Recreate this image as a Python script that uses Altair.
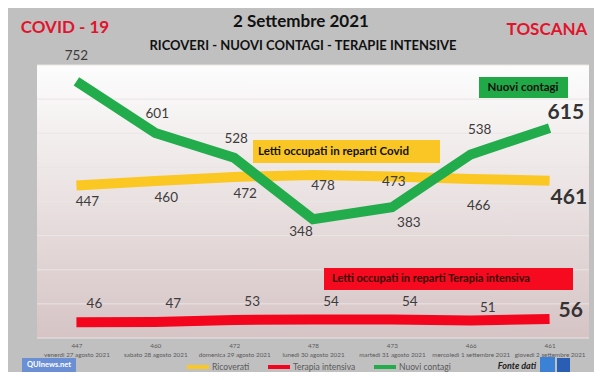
import altair as alt
import pandas as pd

# ---------------- data ----------------
giorni = [
    "venerdì 27 agosto 2021",
    "sabato 28 agosto 2021",
    "domenica 29 agosto 2021",
    "lunedì 30 agosto 2021",
    "martedì 31 agosto 2021",
    "mercoledì 1 settembre 2021",
    "giovedì 2 settembre 2021",
]
ricoverati = [447, 460, 472, 478, 473, 466, 461]
terapia_intensiva = [46, 47, 53, 54, 54, 51, 56]
nuovi_contagi = [752, 601, 528, 348, 383, 538, 615]
serie = ["Ricoverati", "Terapia intensiva", "Nuovi contagi"]
colori = ["#fbc723", "#f3061d", "#22ac4b"]
y_ticks = [0, 100, 200, 300, 400, 500, 600, 700, 800]

W, H = 552, 273
FONT = "Lato"
LABEL_COLOR = "#3c3c3c"

rows = []
chiavi = [f"{r}|{g}" for r, g in zip(ricoverati, giorni)]
for i, k in enumerate(chiavi):
    for s, vals in zip(serie, [ricoverati, terapia_intensiva, nuovi_contagi]):
        rows.append({"giorno": k, "idx": i, "serie": s, "valore": vals[i]})
df = pd.DataFrame(rows)

x_enc = alt.X(
    "giorno:N",
    sort=chiavi,
    title=None,
    axis=alt.Axis(
        labelExpr="split(datum.label, '|')",
        labelAngle=0,
        labelFontSize=6.3,
        labelColor="#5a5a5a",
        labelFont=FONT,
        labelPadding=4,
        labelLineHeight=9,
        labelOverlap=False,
        domain=False,
        ticks=False,
        grid=False,
    ),
)
y_enc = alt.Y(
    "valore:Q",
    title=None,
    scale=alt.Scale(domain=[0, 800], nice=False),
    axis=alt.Axis(
        values=y_ticks,
        domain=False,
        ticks=False,
        grid=False,
        labelFontSize=9,
        labelColor="#595959",
        labelFont=FONT,
        labelPadding=6,
    ),
)
color_enc = alt.Color(
    "serie:N",
    scale=alt.Scale(domain=serie, range=colori),
    legend=alt.Legend(
        orient="none",
        legendX=148,
        legendY=289,
        direction="horizontal",
        title=None,
        symbolType="stroke",
        symbolStrokeWidth=4,
        symbolSize=484,
        labelFontSize=8.5,
        labelColor="#595959",
        labelFont=FONT,
        labelOffset=1,
        columnPadding=10,
    ),
)

one = pd.DataFrame({"t": [""]})

# plot background gradient
bg = alt.Chart(one).mark_rect(
    color=alt.LinearGradient(
        gradient="linear",
        stops=[
            alt.GradientStop(offset=0, color="#fdfdfd"),
            alt.GradientStop(offset=1, color="#d6c4c5"),
        ],
        x1=0, x2=0, y1=0, y2=1,
    )
).encode(x=alt.value(0), x2=alt.value(W), y=alt.value(0), y2=alt.value(H))

grid = alt.Chart(pd.DataFrame({"v": y_ticks})).mark_rule(
    color="#ebe5e5", strokeWidth=1
).encode(y=alt.Y("v:Q", scale=alt.Scale(domain=[0, 800], nice=False), axis=None))


def line(name):
    return alt.Chart(df).transform_filter(alt.datum.serie == name).mark_line(
        strokeWidth=10, strokeCap="butt"
    ).encode(x=x_enc, y=y_enc, color=color_enc)


def labels(name, idxs, dx, dy, size=13.5, weight="normal", align="center", color=LABEL_COLOR):
    return alt.Chart(df).transform_filter(alt.datum.serie == name).transform_filter(
        alt.FieldOneOfPredicate(field="idx", oneOf=idxs)
    ).mark_text(
        dx=dx, dy=dy, fontSize=size, fontWeight=weight, align=align,
        baseline="middle", font=FONT, color=color
    ).encode(x=x_enc, y=y_enc, text="valore:Q")


def txt(s, x, y, size, color, weight="bold", align="center", style="normal"):
    return alt.Chart(pd.DataFrame({"t": [s]})).mark_text(
        fontSize=size, font=FONT, fontWeight=weight, color=color, align=align,
        baseline="middle", fontStyle=style
    ).encode(text="t:N", x=alt.value(x), y=alt.value(y))


def box(x1, x2, y1, y2, color):
    return alt.Chart(one).mark_rect(color=color).encode(
        x=alt.value(x1), x2=alt.value(x2), y=alt.value(y1), y2=alt.value(y2)
    )


layers = [
    bg,
    grid,
    line("Ricoverati"),
    line("Terapia intensiva"),
    line("Nuovi contagi"),
    # green labels
    labels("Nuovi contagi", [0], 0, -25),
    labels("Nuovi contagi", [1, 2], 2, -19),
    labels("Nuovi contagi", [5], 9, -24),
    labels("Nuovi contagi", [3], -12, 13),
    labels("Nuovi contagi", [4], 17, 16),
    labels("Nuovi contagi", [6], -2, -15, size=21, weight="bold", align="left", color="#333333"),
    # yellow labels
    labels("Ricoverati", [0, 1, 2], 11, 17),
    labels("Ricoverati", [3], 10, 11),
    labels("Ricoverati", [4], 2, 5),
    labels("Ricoverati", [5], 8, 27),
    labels("Ricoverati", [6], 1, 17, size=21, weight="bold", align="left", color="#333333"),
    # red labels
    labels("Terapia intensiva", [0, 1, 2, 3, 4], 18, -18),
    labels("Terapia intensiva", [5], 17, -13),
    labels("Terapia intensiva", [6], 9, -8, size=21, weight="bold", align="left", color="#333333"),
    # annotation boxes
    box(442, 531, 12, 33, "#21a847"),
    txt("Nuovi contagi", 486, 23, 11.5, "#111111"),
    box(216, 403, 75, 98, "#f9c626"),
    txt("Letti occupati in reparti Covid", 221, 87, 11.5, "#111111", align="left"),
    box(287, 536, 203, 225, "#f50a1f"),
    txt("Letti occupati in reparti Terapia intensiva", 295, 214, 11, "#3a0808", align="left"),
    # titles
    txt("COVID - 19", 28, -37, 17, "#e0142c"),
    txt("2 Settembre 2021", 264, -43, 17, "#111111"),
    txt("RICOVERI - NUOVI CONTAGI - TERAPIE INTENSIVE", 266, -19, 13, "#111111"),
    txt("TOSCANA", 510, -35, 17, "#e0142c"),
    # logos / source
    box(-15, 39, 293, 307, "#6a8fd4"),
    txt("QUInews.net", 12, 300, 7.5, "#ffffff"),
    txt("Fonte dati", 480, 301, 9, "#222222", style="italic"),
    box(503, 518, 292, 307, "#3b82d6"),
    box(520, 533, 293, 307, "#2a5db4"),
]

chart = alt.layer(*layers).resolve_scale(y="shared").properties(
    width=W,
    height=H,
    padding={"left": 29, "top": 57, "right": 5, "bottom": 34},
    autosize=alt.AutoSizeParams(type="none"),
).configure(background="#c0c0c0").configure_view(stroke=None)

chart.save("out.html", embed_options={"renderer": "svg", "actions": False})
